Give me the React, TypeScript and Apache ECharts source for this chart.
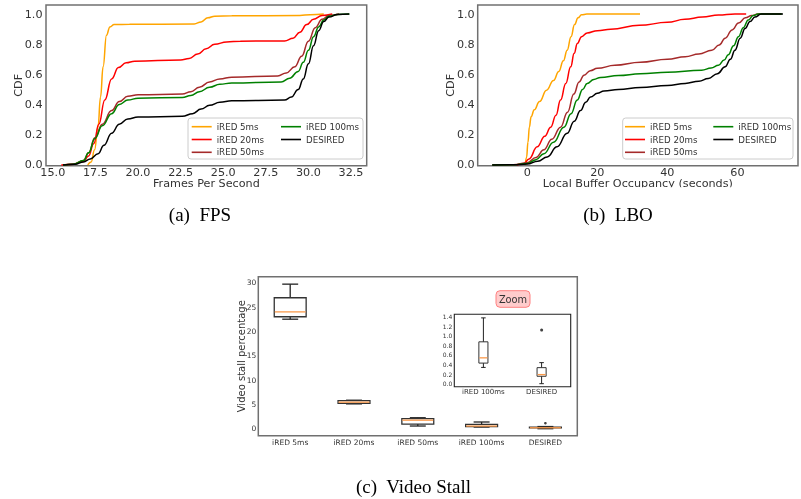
import React, { useEffect, useRef } from "react";
import * as echarts from "echarts";

const seriesNames = ["iRED 5ms", "iRED 20ms", "iRED 50ms", "iRED 100ms", "DESIRED"];
const seriesColors = ["#ffa500", "#ff0000", "#a52a2a", "#008000", "#000000"];

// (a) FPS CDF points [fps, cdf]
const fps5ms = [[17.05, 0], [17.25, 0.02], [17.45, 0.1], [17.65, 0.25], [17.8, 0.45], [17.95, 0.65], [18.15, 0.86], [18.35, 0.915], [18.6, 0.93], [19.5, 0.932], [23.3, 0.934], [23.7, 0.948], [24.1, 0.975], [24.5, 0.986], [25.5, 0.988], [29.5, 0.99], [30.1, 0.996], [30.9, 1.0]];
const fps20ms = [[15.5, 0], [16.2, 0.005], [16.8, 0.025], [17.1, 0.06], [17.4, 0.14], [17.7, 0.27], [18.05, 0.43], [18.45, 0.57], [18.85, 0.645], [19.3, 0.677], [19.8, 0.688], [22.5, 0.695], [23.0, 0.705], [23.5, 0.735], [24.0, 0.77], [24.5, 0.8], [25.2, 0.815], [26, 0.82], [28.6, 0.822], [29.1, 0.84], [29.5, 0.88], [29.9, 0.93], [30.3, 0.965], [30.8, 0.99], [31.4, 1.0]];
const fps50ms = [[15.6, 0], [16.2, 0.005], [16.8, 0.03], [17.1, 0.08], [17.47, 0.18], [17.9, 0.27], [18.45, 0.36], [18.9, 0.42], [19.4, 0.455], [20.0, 0.465], [22.6, 0.47], [23.1, 0.485], [23.6, 0.515], [24.2, 0.55], [24.8, 0.57], [25.5, 0.582], [28.2, 0.59], [28.7, 0.61], [29.2, 0.65], [29.6, 0.72], [30.0, 0.82], [30.4, 0.91], [30.8, 0.965], [31.2, 0.99], [31.8, 1.0]];
const fps100ms = [[15.6, 0], [16.2, 0.005], [16.8, 0.03], [17.1, 0.08], [17.47, 0.175], [17.9, 0.26], [18.45, 0.34], [18.9, 0.4], [19.4, 0.43], [20.0, 0.442], [22.6, 0.447], [23.1, 0.46], [23.6, 0.485], [24.2, 0.515], [24.8, 0.535], [25.5, 0.543], [28.4, 0.55], [28.9, 0.575], [29.4, 0.62], [29.7, 0.68], [30.0, 0.76], [30.3, 0.85], [30.6, 0.915], [30.9, 0.96], [31.2, 0.985], [31.7, 0.997], [32.4, 1.0]];
const fpsDesired = [[15.6, 0], [16.3, 0.004], [16.8, 0.02], [17.2, 0.04], [17.66, 0.075], [18.0, 0.13], [18.45, 0.21], [18.9, 0.27], [19.4, 0.305], [20.0, 0.318], [22.6, 0.322], [23.2, 0.34], [23.7, 0.37], [24.2, 0.395], [24.8, 0.415], [25.5, 0.425], [28.6, 0.43], [29.0, 0.45], [29.4, 0.5], [29.7, 0.57], [30.0, 0.67], [30.3, 0.79], [30.6, 0.89], [30.9, 0.95], [31.2, 0.98], [31.7, 0.997], [32.4, 1.0]];

// (b) LBO CDF points [seconds, cdf]
const lbo5ms = [[-0.6, 0], [-0.2, 0.05], [0.2, 0.15], [0.6, 0.25], [1.1, 0.32], [2.0, 0.365], [3.5, 0.42], [5.5, 0.495], [7.5, 0.56], [9.0, 0.62], [10.3, 0.69], [11.4, 0.76], [12.5, 0.85], [13.5, 0.93], [14.5, 0.975], [15.5, 0.995], [17, 1.0], [32.2, 1.0]];
const lbo20ms = [[-3, 0], [-1, 0.008], [0.5, 0.04], [2.85, 0.12], [5, 0.19], [6.7, 0.25], [8.2, 0.33], [9.5, 0.43], [11, 0.54], [12.4, 0.65], [13.4, 0.74], [14.3, 0.805], [15.5, 0.85], [17.1, 0.875], [20, 0.89], [23.8, 0.9], [32, 0.925], [40, 0.945], [45, 0.965], [50, 0.98], [54.6, 0.993], [59.3, 1.0], [62.5, 1.0]];
const lbo50ms = [[-10, 0], [-4, 0.002], [0, 0.015], [2.5, 0.05], [4.75, 0.1], [7, 0.17], [9.5, 0.25], [11.5, 0.35], [13.3, 0.47], [14.8, 0.55], [16.2, 0.595], [18, 0.625], [20, 0.64], [25, 0.66], [32.3, 0.68], [40, 0.7], [45.1, 0.717], [49, 0.735], [52.7, 0.76], [54.8, 0.795], [56.5, 0.84], [58.5, 0.895], [60.3, 0.94], [62.3, 0.975], [64.1, 0.99], [65.8, 1.0], [72.5, 1.0]];
const lbo100ms = [[-10, 0], [-4, 0.001], [0, 0.01], [2.5, 0.035], [4.75, 0.075], [7.5, 0.15], [10.46, 0.25], [12.5, 0.34], [14.27, 0.43], [15.8, 0.5], [17.1, 0.54], [19, 0.567], [20.9, 0.58], [26, 0.593], [32.3, 0.604], [40, 0.614], [49.8, 0.628], [52.5, 0.642], [54.6, 0.66], [56.2, 0.695], [57.4, 0.73], [58.9, 0.79], [60.3, 0.85], [61.7, 0.91], [63.1, 0.96], [64.5, 0.99], [65.9, 1.0], [72.7, 1.0]];
const lboDesired = [[-10, 0], [-4, 0.001], [0, 0.006], [3, 0.025], [5.7, 0.053], [8.5, 0.12], [11.4, 0.21], [13.4, 0.29], [15.2, 0.36], [16.7, 0.415], [18.06, 0.45], [20, 0.475], [21.9, 0.49], [26, 0.5], [32.3, 0.514], [40, 0.527], [45.1, 0.54], [49, 0.555], [51.7, 0.573], [54.3, 0.605], [56.5, 0.65], [58, 0.7], [59.3, 0.76], [60.8, 0.84], [62.2, 0.905], [63.6, 0.95], [65, 0.98], [66.8, 1.0], [73, 1.0]];

const fpsTicks = [15, 17.5, 20, 22.5, 25, 27.5, 30, 32.5];
const lboTicks = [0, 20, 40, 60];
const cdfTicks = [0, 0.2, 0.4, 0.6, 0.8, 1.0];

// (c) Video stall boxplots [min, Q1, median, Q3, max]
const stallCategories = ["iRED 5ms", "iRED 20ms", "iRED 50ms", "iRED 100ms", "DESIRED"];
const stall5ms = [22.5, 23.0, 24.0, 26.9, 29.7];
const stall20ms = [5.1, 5.2, 5.45, 5.75, 5.85];
const stall50ms = [0.55, 0.95, 1.75, 2.05, 2.25];
const stall100ms = [0.34, 0.43, 0.54, 0.875, 1.375];
const stallDesired = [0.0, 0.155, 0.19, 0.335, 0.44];
const stallOutliers = [["DESIRED", 1.12]];
const stallTicks = [0, 5, 10, 15, 20, 25, 30];
const insetCategories = ["iRED 100ms", "DESIRED"];
const insetTicks = [0, 0.2, 0.4, 0.6, 0.8, 1.0, 1.2, 1.4];

const FONT = "DejaVu Sans";
const TXT = "#333";
const FRAME = "#707070";

function makeBox(frac: number, boxLw: number) {
  return (params: any, api: any) => {
    const i = api.value(0);
    const pMin = api.coord([i, api.value(1)]);
    const pQ1 = api.coord([i, api.value(2)]);
    const pMed = api.coord([i, api.value(3)]);
    const pQ3 = api.coord([i, api.value(4)]);
    const pMax = api.coord([i, api.value(5)]);
    const band = api.size([1, 0])[0];
    const w = band * frac;
    const c = w / 4;
    const x = pMin[0];
    const ws = { stroke: "#222", lineWidth: boxLw };
    return {
      type: "group",
      children: [
        { type: "line", shape: { x1: x, y1: pQ1[1], x2: x, y2: pMin[1] }, style: ws },
        { type: "line", shape: { x1: x - c, y1: pMin[1], x2: x + c, y2: pMin[1] }, style: ws },
        { type: "line", shape: { x1: x, y1: pQ3[1], x2: x, y2: pMax[1] }, style: ws },
        { type: "line", shape: { x1: x - c, y1: pMax[1], x2: x + c, y2: pMax[1] }, style: ws },
        { type: "rect", shape: { x: x - w / 2, y: pQ3[1], width: w, height: pQ1[1] - pQ3[1] }, style: { fill: "none", stroke: "#333", lineWidth: boxLw } },
        { type: "line", shape: { x1: x - w / 2 + 0.5, y1: pMed[1], x2: x + w / 2 - 0.5, y2: pMed[1] }, style: { stroke: "#fa9a4b", lineWidth: 1.3 } },
      ],
    };
  };
}

export default function App() {
  const ref = useRef<HTMLDivElement>(null);
  useEffect(() => {
    if (!ref.current) return;
    const chart = echarts.init(ref.current, null, { renderer: "svg" });
    const fpsData = [fps5ms, fps20ms, fps50ms, fps100ms, fpsDesired];
    const lboData = [lbo5ms, lbo20ms, lbo50ms, lbo100ms, lboDesired];
    const stallAll = [stall5ms, stall20ms, stall50ms, stall100ms, stallDesired];
    const mainBoxes = stallAll.map((b, i) => [i, ...b]);
    const insetBoxes = [stall100ms, stallDesired].map((b, i) => [i, ...b]);

    const frameGrid = (left: number, top: number, width: number, height: number, color = FRAME, bw = 1.5) => ({
      left, top, width, height, show: true, borderColor: color, borderWidth: bw, backgroundColor: "#fff", containLabel: false,
    });

    const valAxis = (grid: number, min: number, max: number, ticks: number[], fmt: (v: number) => string, fs: number, margin: number, extra: any = {}) => ({
      type: "value", gridIndex: grid, min, max,
      axisLine: { show: false }, axisTick: { show: false }, splitLine: { show: false },
      axisLabel: { customValues: ticks, formatter: fmt, fontSize: fs, color: TXT, fontFamily: FONT, margin, lineHeight: fs },
      nameMoveOverlap: false,
      ...extra,
    });

    const lineSeries = (data: number[][][], xi: number) =>
      data.map((d, k) => ({
        type: "line", name: seriesNames[k], xAxisIndex: xi, yAxisIndex: xi, data: d,
        showSymbol: false, symbol: "none", smooth: 0.45, smoothMonotone: "x",
        color: seriesColors[k], lineStyle: { width: 1.5, color: seriesColors[k] }, z: 2 + k * 0.01,
      }));

    const legendBase = (data: string[], left: number) => ({
      data, orient: "vertical", left, top: 121.2, itemWidth: 20, itemHeight: 1.6, icon: "rect",
      itemGap: 1.8, padding: 0, selectedMode: false,
      textStyle: { fontSize: 8.7, color: TXT, fontFamily: FONT, lineHeight: 11 },
    });

    const captionStyle = { fontSize: 19, fontFamily: "Liberation Serif", fill: "#000", textAlign: "center", textVerticalAlign: "middle" };
    const nameStyle = { fontSize: 11.2, color: TXT, fontFamily: FONT, lineHeight: 11.2 };

    chart.setOption({
      animation: false,
      textStyle: { fontFamily: FONT },
      grid: [
        frameGrid(46, 5, 320.7, 160.7),
        frameGrid(477.7, 5, 320.3, 160.7),
        frameGrid(258.3, 276.7, 319, 159),
        frameGrid(454.3, 314.3, 116.4, 72.4, "#222", 1.1),
      ],
      xAxis: [
        valAxis(0, 14.6, 33.42, fpsTicks, (v) => v.toFixed(1), 11.2, 1, {
          name: "Frames Per Second", nameLocation: "middle", nameGap: 12.5, nameTextStyle: nameStyle,
        }),
        valAxis(1, -14.15, 77.3, lboTicks, (v) => String(v), 11.2, 1, {
          name: "Local Buffer Occupancy (seconds)", nameLocation: "middle", nameGap: 12.5, nameTextStyle: nameStyle,
        }),
        {
          type: "category", gridIndex: 2, data: stallCategories, boundaryGap: true,
          axisLine: { show: false }, axisTick: { show: false }, splitLine: { show: false },
          axisLabel: { fontSize: 7.5, color: TXT, fontFamily: FONT, margin: 3, interval: 0 },
        },
        {
          type: "category", gridIndex: 3, data: insetCategories, boundaryGap: true,
          axisLine: { show: false }, axisTick: { show: false }, splitLine: { show: false },
          axisLabel: { fontSize: 7, color: TXT, fontFamily: FONT, margin: 2, interval: 0 },
        },
      ],
      yAxis: [
        valAxis(0, -0.005, 1.06, cdfTicks, (v) => v.toFixed(1), 11.2, 3.5, {
          name: "CDF", nameLocation: "middle", nameGap: 21.5, nameTextStyle: nameStyle,
        }),
        valAxis(1, -0.005, 1.06, cdfTicks, (v) => v.toFixed(1), 11.2, 3, {
          name: "CDF", nameLocation: "middle", nameGap: 22, nameTextStyle: nameStyle,
        }),
        valAxis(2, -1.44, 31.23, stallTicks, (v) => String(v), 7.5, 2, {
          name: "Video stall percentage", nameLocation: "middle", nameGap: 11.5, nameTextStyle: { fontSize: 10, color: TXT, fontFamily: FONT },
        }),
        valAxis(3, -0.063, 1.45, insetTicks, (v) => v.toFixed(1), 6, 2),
      ],
      legend: [
        legendBase(seriesNames.slice(0, 3), 191.7),
        legendBase(seriesNames.slice(3), 281),
        legendBase(seriesNames.slice(0, 3), 625),
        legendBase(seriesNames.slice(3), 713.3),
      ],
      series: [
        ...lineSeries(fpsData, 0),
        ...lineSeries(lboData, 1),
        { type: "custom", xAxisIndex: 2, yAxisIndex: 2, data: mainBoxes, renderItem: makeBox(0.5, 1.3), encode: { x: 0, y: [1, 2, 3, 4, 5] }, z: 3 },
        { type: "scatter", xAxisIndex: 2, yAxisIndex: 2, data: stallOutliers, symbolSize: 2.6, itemStyle: { color: "#111" }, z: 4 },
        { type: "custom", xAxisIndex: 3, yAxisIndex: 3, data: insetBoxes, renderItem: makeBox(0.156, 1.0), encode: { x: 0, y: [1, 2, 3, 4, 5] }, z: 3 },
        { type: "scatter", xAxisIndex: 3, yAxisIndex: 3, data: stallOutliers, symbolSize: 3, itemStyle: { color: "#111" }, z: 4 },
      ],
      graphic: [
        { type: "rect", z: 3, shape: { x: 188, y: 118, width: 175, height: 41, r: 3 }, style: { fill: "rgba(255,255,255,0.85)", stroke: "#cccccc", lineWidth: 1 } },
        { type: "rect", z: 3, shape: { x: 622.7, y: 118, width: 170.3, height: 41, r: 3 }, style: { fill: "rgba(255,255,255,0.85)", stroke: "#cccccc", lineWidth: 1 } },
        { type: "rect", z: 100, shape: { x: 478, y: 187.3, width: 323, height: 12 }, style: { fill: "#fff" } },
        { type: "rect", z: 5, shape: { x: 496, y: 290.7, width: 34, height: 16.6, r: 4 }, style: { fill: "#ffcccc", stroke: "#ff8080", lineWidth: 1 } },
        { type: "text", z: 6, x: 513, y: 299.2, style: { text: "Zoom", fontSize: 9.8, fontFamily: FONT, fill: "#333", textAlign: "center", textVerticalAlign: "middle" } },
        { type: "text", z: 6, x: 200, y: 214, style: { text: "(a)  FPS", ...captionStyle } },
        { type: "text", z: 101, x: 618, y: 214, style: { text: "(b)  LBO", ...captionStyle } },
        { type: "text", z: 6, x: 413.5, y: 486, style: { text: "(c)  Video Stall", ...captionStyle } },
      ],
    });
    return () => chart.dispose();
  }, []);
  return <div ref={ref} style={{ position: "fixed", left: 0, top: 0, width: 801, height: 499 }} />;
}
